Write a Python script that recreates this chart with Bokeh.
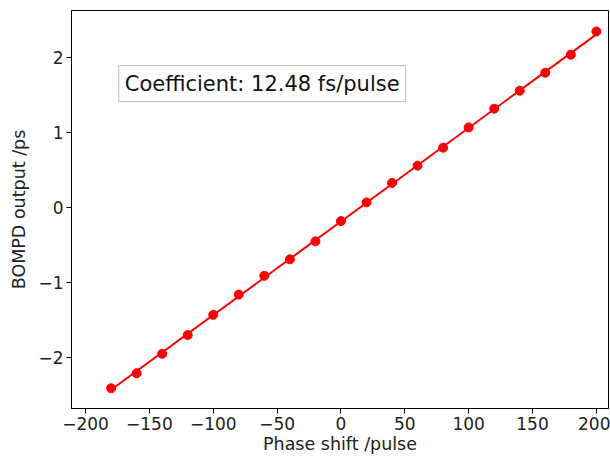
import numpy as np
from bokeh.plotting import figure
from bokeh.models import Label, Range1d, FixedTicker, Whisker, ColumnDataSource
from bokeh.embed import file_html
from bokeh.resources import INLINE

# Measured BOMPD output versus applied phase shift
phase_shift = [-180, -160, -140, -120, -100, -80, -60, -40, -20, 0,
               20, 40, 60, 80, 100, 120, 140, 160, 180, 200]
bompd_ps = [-2.41, -2.21, -1.95, -1.70, -1.43, -1.16, -0.91, -0.69, -0.45, -0.18,
            0.07, 0.33, 0.56, 0.80, 1.07, 1.32, 1.56, 1.80, 2.04, 2.35]
bompd_err = [0.02, 0.02, 0.02, 0.02, 0.02, 0.05, 0.02, 0.05, 0.02, 0.02,
             0.02, 0.04, 0.02, 0.02, 0.02, 0.02, 0.02, 0.02, 0.02, 0.02]

# Linear fit: slope given in fs/pulse
coef_fs = 12.48
slope = coef_fs * 1e-3
intercept = float(np.mean(bompd_ps) - slope * np.mean(phase_shift))
fit_x = [phase_shift[0], phase_shift[-1]]
fit_y = [slope * v + intercept for v in fit_x]

x_ticks = [-200, -150, -100, -50, 0, 50, 100, 150, 200]
y_ticks = [-2, -1, 0, 1, 2]

FONT = "DejaVu Sans"
TEXT = "#222222"

p = figure(width=610, height=456, output_backend="svg", toolbar_location=None,
           x_range=Range1d(-211, 209.5), y_range=Range1d(-2.68, 2.63),
           min_border_left=71, min_border_right=2, min_border_top=10,
           min_border_bottom=48)
p.background_fill_color = "white"
p.border_fill_color = "white"
p.outline_line_color = "black"
p.outline_line_width = 1
p.xgrid.visible = False
p.ygrid.visible = False

for ax, ticks in ((p.xaxis[0], x_ticks), (p.yaxis[0], y_ticks)):
    ax.ticker = FixedTicker(ticks=ticks)
    ax.major_label_overrides = {t: (str(t).replace("-", "\u2212")) for t in ticks}
    ax.minor_tick_line_color = None
    ax.major_tick_in = 0
    ax.major_tick_out = 5
    ax.major_tick_line_color = "black"
    ax.axis_line_color = "black"
    ax.major_label_text_font = FONT
    ax.major_label_text_font_size = "17px"
    ax.major_label_text_color = TEXT
    ax.major_label_standoff = 3
    ax.axis_label_text_font = FONT
    ax.axis_label_text_font_size = "17.5px"
    ax.axis_label_text_font_style = "normal"
    ax.axis_label_text_color = TEXT

p.xaxis.axis_label = "Phase shift /pulse"
p.yaxis.axis_label = "BOMPD output /ps"
p.xaxis.axis_label_standoff = 1
p.yaxis.axis_label_standoff = 6

src = ColumnDataSource(dict(
    x=phase_shift, y=bompd_ps,
    lo=[a - e for a, e in zip(bompd_ps, bompd_err)],
    hi=[a + e for a, e in zip(bompd_ps, bompd_err)],
))

p.line(fit_x, fit_y, line_color="#ff0000", line_width=2)
p.add_layout(Whisker(source=src, base="x", lower="lo", upper="hi",
                     line_color="#ff0000", line_width=1.5,
                     lower_head=None, upper_head=None))
p.scatter("x", "y", source=src, size=9, fill_color="#ff0000",
          line_color="#ff0000")

p.add_layout(Label(x=-174, y=1.655, text=f"Coefficient: {coef_fs:.2f} fs/pulse",
                   text_font=FONT, text_font_size="21px", text_color="#111111",
                   text_baseline="middle", text_align="left",
                   background_fill_color="white", border_line_color="#bbbbbb",
                   border_line_width=1, padding=6))

open("out.html", "w").write(file_html(p, INLINE))
